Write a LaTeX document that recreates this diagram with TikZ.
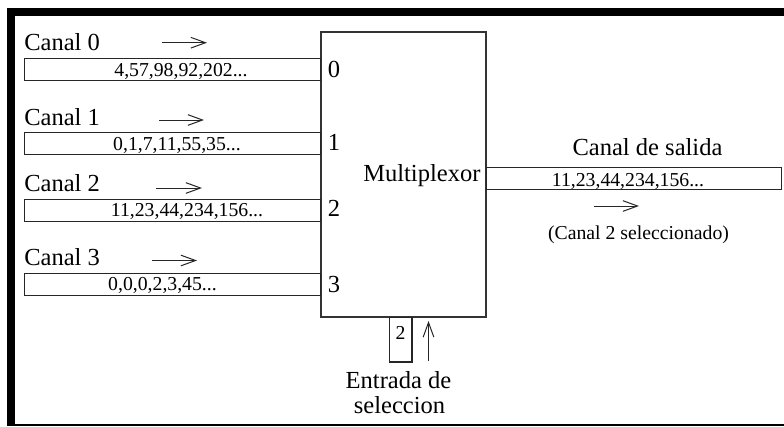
\documentclass[tikz,border=0pt]{standalone}
\usepackage{fontspec}
\setmainfont{Liberation Serif}
\usetikzlibrary{arrows.meta}
\begin{document}
\begin{tikzpicture}[x=0.75pt,y=-0.75pt,
  big/.style={font=\fontsize{18.4}{20}\selectfont, inner sep=0pt},
  small/.style={font=\fontsize{14.8}{16}\selectfont, inner sep=0pt},
  chbox/.style={draw=black!85, line width=1pt, inner sep=0pt},
  arr/.style={draw=black!85, line width=0.75pt, -{Straight Barb[length=11pt,width=8pt,line width=0.75pt]}},
  bar/.style={fill=black, draw=none}]
\useasboundingbox (0,0) rectangle (784,426);
% frame
\fill[bar] (7,8) rectangle (784,16);
\fill[bar] (7,8) rectangle (15,426);
\fill[bar] (7,423.5) rectangle (784,426);
% multiplexer
\node[chbox, draw=black!80, line width=1.2pt, minimum width=124.1pt, minimum height=214.1pt, anchor=north west] (mux) at (320,31) {};
% channel boxes
\node[chbox, minimum width=222.4pt, minimum height=16.5pt, anchor=north west] (b0) at (23.5,58) {};
\node[chbox, minimum width=222.4pt, minimum height=16.5pt, anchor=north west] (b1) at (23.5,132) {};
\node[chbox, minimum width=222.4pt, minimum height=16.5pt, anchor=north west] (b2) at (23.5,198.5) {};
\node[chbox, minimum width=222.4pt, minimum height=16.5pt, anchor=north west] (b3) at (23.5,272.5) {};
\node[small, anchor=base] (t0) at (181,76) {4,57,98,92,202...};
\node[small, anchor=base] (t1) at (177,150) {0,1,7,11,55,35...};
\node[small, anchor=base] (t2) at (187,216) {11,23,44,234,156...};
\node[small, anchor=base] (t3) at (162.5,290) {0,0,0,2,3,45...};
% labels
\node[big, anchor=base west] (l0) at (24,50) {Canal 0};
\node[big, anchor=base west] (l1) at (24,125) {Canal 1};
\node[big, anchor=base west] (l2) at (24,191) {Canal 2};
\node[big, anchor=base west] (l3) at (24,265) {Canal 3};
% input arrows
\coordinate (a0s) at (162,42.7); \coordinate (a0e) at (207,42.7);
\coordinate (a1s) at (159,120); \coordinate (a1e) at (204,120);
\coordinate (a2s) at (156,188); \coordinate (a2e) at (202,188);
\coordinate (a3s) at (152,260.5); \coordinate (a3e) at (197,260.5);
\draw[arr] (a0s) -- (a0e);
\draw[arr] (a1s) -- (a1e);
\draw[arr] (a2s) -- (a2e);
\draw[arr] (a3s) -- (a3e);
% port numbers
\node[big, anchor=base west] (p0) at (327.5,77) {0};
\node[big, anchor=base west] (p1) at (327.5,150) {1};
\node[big, anchor=base west] (p2) at (327.5,216.5) {2};
\node[big, anchor=base west] (p3) at (327.5,292) {3};
\node[big, anchor=base west] (mt) at (363,181) {Multiplexor};
% output
\node[chbox, minimum width=221.5pt, minimum height=16.8pt, anchor=north west] (out) at (485.5,166.5) {};
\node[small, anchor=base] (tout) at (628,186.5) {11,23,44,234,156...};
\node[big, anchor=base] (lout) at (647.5,155) {Canal de salida};
\coordinate (aos) at (594,206); \coordinate (aoe) at (639,206);
\draw[arr] (aos) -- (aoe);
\node[small, anchor=base] (sel) at (638.5,239.5) {(Canal 2 seleccionado)};
% selection input
\node[chbox, minimum width=16.8pt, minimum height=33.5pt, anchor=north west] (sbox) at (389,316.5) {};
\node[small, anchor=base] (s2) at (400.5,339) {2};
\coordinate (aus) at (428.5,361); \coordinate (aue) at (428.5,321);
\draw[arr] (aus) -- (aue);
\node[big, anchor=base] (e1) at (398.5,388) {Entrada de};
\node[big, anchor=base] (e2) at (399.5,413) {seleccion};
\end{tikzpicture}
\end{document}
